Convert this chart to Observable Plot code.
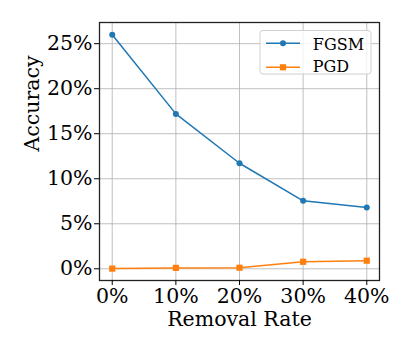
<!DOCTYPE html>
<html><head><meta charset="utf-8">
<script src="https://cdn.jsdelivr.net/npm/d3@7"></script>
<script src="https://cdn.jsdelivr.net/npm/@observablehq/plot@0.6"></script>
<style>body{margin:0;background:#fff} #chart{position:relative;width:411px;height:352px}</style>
</head><body><div id="chart"></div>
<script>
const removalRates = [0, 10, 20, 30, 40];
const fgsm = [26.0, 17.2, 11.72, 7.55, 6.8];
const pgd = [0.02, 0.1, 0.12, 0.78, 0.9];
const seriesNames = ["FGSM", "PGD"];
const seriesSymbols = ["circle", "square"];
const xTicks = [0, 10, 20, 30, 40];
const yTicks = [0, 5, 10, 15, 20, 25];
const colors = ["#1f77b4", "#ff7f0e"];
const xLabel = "Removal Rate";
const yLabel = "Accuracy";

const data = [
  ...removalRates.map((r, i) => ({rate: r, acc: fgsm[i], series: seriesNames[0]})),
  ...removalRates.map((r, i) => ({rate: r, acc: pgd[i], series: seriesNames[1]}))
];
const font = "DejaVu Serif";
const W = 411, H = 352, ML = 99, MR = 32, MT = 22, MB = 72;
const legendTextDy = [22.8, 44.8];
const legendLineDy = [21.3, 45.3];

const plot = Plot.plot({
  width: W, height: H, marginLeft: ML, marginRight: MR, marginTop: MT, marginBottom: MB,
  style: {fontFamily: font, background: "#fff", color: "#000"},
  x: {domain: [-2, 42]},
  y: {domain: [-1.3, 27.35]},
  color: {domain: seriesNames, range: colors},
  symbol: {domain: seriesNames, range: seriesSymbols},
  marks: [
    Plot.gridX(xTicks, {stroke: "#b0b0b0", strokeOpacity: 1, strokeWidth: 0.8}),
    Plot.gridY(yTicks, {stroke: "#b0b0b0", strokeOpacity: 1, strokeWidth: 0.8}),
    Plot.line(data, {x: "rate", y: "acc", z: "series", stroke: "series", strokeWidth: 1.5}),
    Plot.dot(data.filter(d => d.series === seriesNames[0]), {x: "rate", y: "acc", fill: "series", symbol: "series", r: 3}),
    Plot.dot(data.filter(d => d.series === seriesNames[1]), {x: "rate", y: "acc", fill: "series", symbol: "series", r: 3.5}),
    Plot.frame({stroke: "#222", strokeWidth: 1.3}),
    Plot.axisX(xTicks, {tickSize: 5, tickPadding: 3, fontSize: 20.5, tickFormat: d => d + "%", label: null}),
    Plot.axisY(yTicks, {tickSize: 5, tickPadding: 2, fontSize: 20.5, tickFormat: d => d + "%", label: null}),
    Plot.text([xLabel], {frameAnchor: "bottom", dy: 39, fontSize: 20.5, lineAnchor: "middle", text: d => d}),
    Plot.text([yLabel], {frameAnchor: "left", dx: -67, rotate: -90, fontSize: 20.5, lineAnchor: "middle", text: d => d}),
    // legend labels (drawn by Plot so they share its font)
    ...seriesNames.map((name, i) => Plot.text([name], {
      frameAnchor: "top-right", dx: -66.7, dy: legendTextDy[i], textAnchor: "start",
      lineAnchor: "middle", fontSize: 16, text: d => d, fill: "#000"
    }))
  ]
});

// legend box, sample lines and markers (upper right, inside the frame)
const svg = d3.select(plot);
const lg = svg.append("g");
const bx = W - MR - 111 - 8, by = MT + 8.5;
lg.append("rect").attr("x", bx).attr("y", by).attr("width", 111).attr("height", 43.5)
  .attr("rx", 3).attr("fill", "#fff").attr("fill-opacity", 0.8).attr("stroke", "#d0d0d0").attr("stroke-width", 1);
seriesNames.forEach((name, i) => {
  const yy = MT + legendLineDy[i];
  lg.append("line").attr("x1", bx + 6).attr("x2", bx + 40).attr("y1", yy).attr("y2", yy)
    .attr("stroke", colors[i]).attr("stroke-width", 1.5);
  lg.append("path").attr("transform", `translate(${bx + 23},${yy})`)
    .attr("d", d3.symbol(i === 0 ? d3.symbolCircle : d3.symbolSquare, i === 0 ? Math.PI * 9 : Math.PI * 12.25)())
    .attr("fill", colors[i]);
});
// keep the legend labels above the legend box
svg.selectAll("g[aria-label='text']").filter((d, i, n) => i >= 2).raise();

document.getElementById("chart").appendChild(plot);
</script>
</body></html>
